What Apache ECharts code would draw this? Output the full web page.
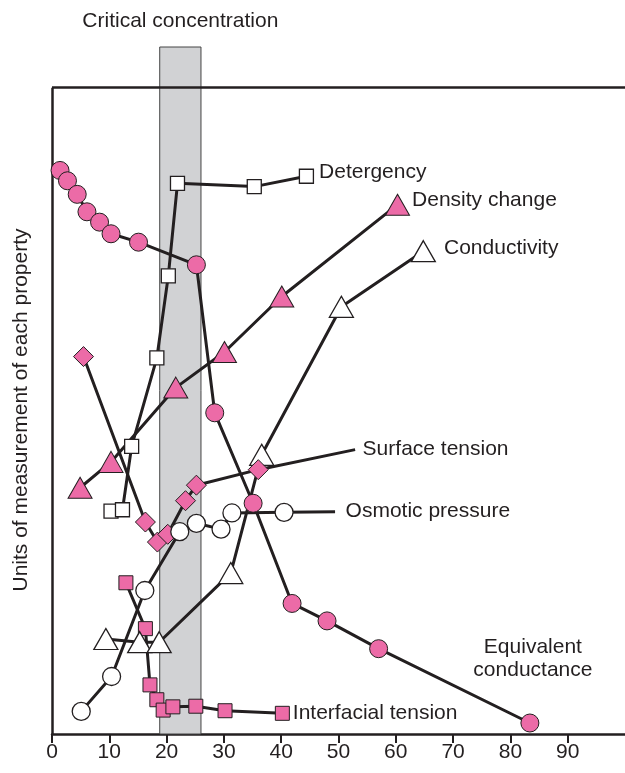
<!DOCTYPE html>
<html>
<head>
<meta charset="utf-8">
<script src="https://cdn.jsdelivr.net/npm/echarts@6/dist/echarts.min.js"></script>
<style>
html,body{margin:0;padding:0;background:#fff;}
#chart{width:625px;height:773px;}
</style>
</head>
<body>
<div id="chart"></div>
<script>
// ---- Data (x = concentration, y = arbitrary units 0-100) ----
var xTicks = [0,10,20,30,40,50,60,70,80,90];
var criticalBand = [18.8, 26.0];

var eqCondX = [1.4,2.7,4.4,6.1,8.3,10.3,15.1,25.2,28.4,35.1,41.9,48.0,57.0,83.4];
var eqCondY = [87.2,85.6,83.5,80.8,79.2,77.4,76.1,72.6,49.7,35.7,20.2,17.5,13.2,1.7];

var detergX = [10.3,12.3,13.9,18.3,20.3,21.9,35.3,44.4];
var detergY = [34.5,34.7,44.5,58.2,70.9,85.2,84.7,86.3];

var densityX = [4.9,10.3,21.6,30.1,40.1,60.3];
var densityY = [38.1,42.1,53.6,59.1,67.7,81.9];

var conductX = [9.4,15.3,18.7,31.2,36.6,50.5,64.8];
var conductY = [14.7,14.2,14.2,24.9,43.2,66.1,74.7];

var surfaceX = [5.5,16.3,18.4,20.2,23.3,25.2,36.0,52.9];
var surfaceY = [58.4,32.8,29.7,30.9,36.1,38.5,40.9,44.0];

var osmoticX = [5.1,10.4,16.2,22.3,25.2,29.5,31.4,40.5,49.4];
var osmoticY = [3.5,8.9,22.2,31.3,32.6,31.7,34.2,34.3,34.4];

var interX = [12.9,16.3,17.1,18.3,19.4,21.1,25.1,30.2,40.2];
var interY = [23.4,16.3,7.6,5.3,3.7,4.2,4.3,3.6,3.2];

// ---- Styles ----
var INK = '#231f20';
var PINK = '#ec6ba7';
var FONT = '"Liberation Sans", Arial, Helvetica, sans-serif';
var FS = 21;
var Y_TOP = 100;      // top frame line
var Y_MAX = 106.3;    // band extends above the frame

function pts(xs, ys) { return xs.map(function (x, i) { return [x, ys[i]]; }); }

function withEndLabel(xs, ys, text, opts) {
  var d = pts(xs, ys);
  var last = d.length - 1;
  var item = { value: d[last], label: Object.assign({
      show: true, formatter: text, position: 'right', distance: 4,
      color: INK, fontSize: FS, fontFamily: FONT
    }, opts.label || {}) };
  if (opts.noSymbol) {
    item.symbol = 'circle'; item.symbolSize = 1;
    item.itemStyle = { color: 'rgba(0,0,0,0)', borderColor: 'rgba(0,0,0,0)', borderWidth: 0 };
  }
  d[last] = item;
  return d;
}

function lineSeries(name, data, symbol, size, fill, z) {
  return {
    name: name, type: 'line', data: data, z: z,
    symbol: symbol, symbolSize: size,
    showAllSymbol: true, animation: false,
    lineStyle: { color: INK, width: 3 },
    itemStyle: { color: fill, borderColor: INK, borderWidth: fill === '#ffffff' ? 1.3 : 1 },
    emphasis: { disabled: true },
    label: { show: false }
  };
}

var chart = echarts.init(document.getElementById('chart'), null, { renderer: 'canvas' });

var option = {
  backgroundColor: '#ffffff',
  animation: false,
  grid: { left: 52, right: 0, top: 47, bottom: 39 },
  xAxis: {
    type: 'value', min: 0, max: 100, interval: 10,
    axisLine: { show: true, lineStyle: { color: INK, width: 2.5 } },
    axisTick: { show: true, length: 9, lineStyle: { color: INK, width: 2 } },
    axisLabel: {
      color: INK, fontSize: FS, fontFamily: FONT, margin: 8,
      showMaxLabel: false,
      formatter: function (v) { return xTicks.indexOf(v) >= 0 ? String(v) : ''; }
    },
    splitLine: { show: false }
  },
  yAxis: {
    type: 'value', min: 0, max: Y_MAX,
    axisLine: { show: false }, axisTick: { show: false },
    axisLabel: { show: false }, splitLine: { show: false }
  },
  graphic: [{
    type: 'text', x: 21, y: 410, rotation: Math.PI / 2,
    style: {
      text: 'Units of measurement of each property',
      fill: INK, fontSize: FS, fontFamily: FONT,
      textAlign: 'center', textVerticalAlign: 'middle'
    }
  }],
  series: [
    {
      name: 'frame', type: 'line', data: [], z: 1, silent: true,
      markArea: {
        silent: true,
        itemStyle: { color: '#d1d2d4', borderColor: '#444', borderWidth: 1 },
        label: {
          show: true, position: 'top', distance: 15,
          color: INK, fontSize: FS, fontFamily: FONT
        },
        data: [[
          { name: 'Critical concentration', xAxis: criticalBand[0], yAxis: 0 },
          { xAxis: criticalBand[1], yAxis: Y_MAX }
        ]]
      },
      markLine: {
        silent: true, symbol: 'none', animation: false,
        lineStyle: { color: INK, width: 2.5, type: 'solid' },
        label: { show: false },
        data: [
          [{ coord: [0, 0] }, { coord: [0, Y_TOP] }],
          [{ coord: [0, Y_TOP] }, { coord: [100, Y_TOP] }]
        ]
      }
    },
    lineSeries('Interfacial tension',
      withEndLabel(interX, interY, 'Interfacial tension', { label: { distance: 3 } }),
      'rect', 14, PINK, 2),
    lineSeries('Conductivity',
      withEndLabel(conductX, conductY, 'Conductivity', { label: { distance: 8, offset: [0, -3] } }),
      'triangle', [24, 21], '#ffffff', 3),
    lineSeries('Surface tension',
      withEndLabel(surfaceX, surfaceY, 'Surface tension', { noSymbol: true, label: { distance: 7 } }),
      'diamond', 20, PINK, 4),
    lineSeries('Osmotic pressure',
      withEndLabel(osmoticX, osmoticY, 'Osmotic pressure', { noSymbol: true, label: { distance: 10 } }),
      'circle', 18, '#ffffff', 5),
    lineSeries('Density change',
      withEndLabel(densityX, densityY, 'Density change', { label: { distance: 2, offset: [0, -4] } }),
      'triangle', [24, 21], PINK, 6),
    lineSeries('Detergency',
      withEndLabel(detergX, detergY, 'Detergency', { label: { distance: 5, offset: [0, -4] } }),
      'rect', 14, '#ffffff', 7),
    lineSeries('Equivalent conductance',
      withEndLabel(eqCondX, eqCondY, 'Equivalent\nconductance',
        { label: { position: 'top', distance: 32, align: 'center', lineHeight: 23, offset: [3, 0] } }),
      'circle', 18, PINK, 8)
  ]
};

chart.setOption(option);
</script>
</body>
</html>
